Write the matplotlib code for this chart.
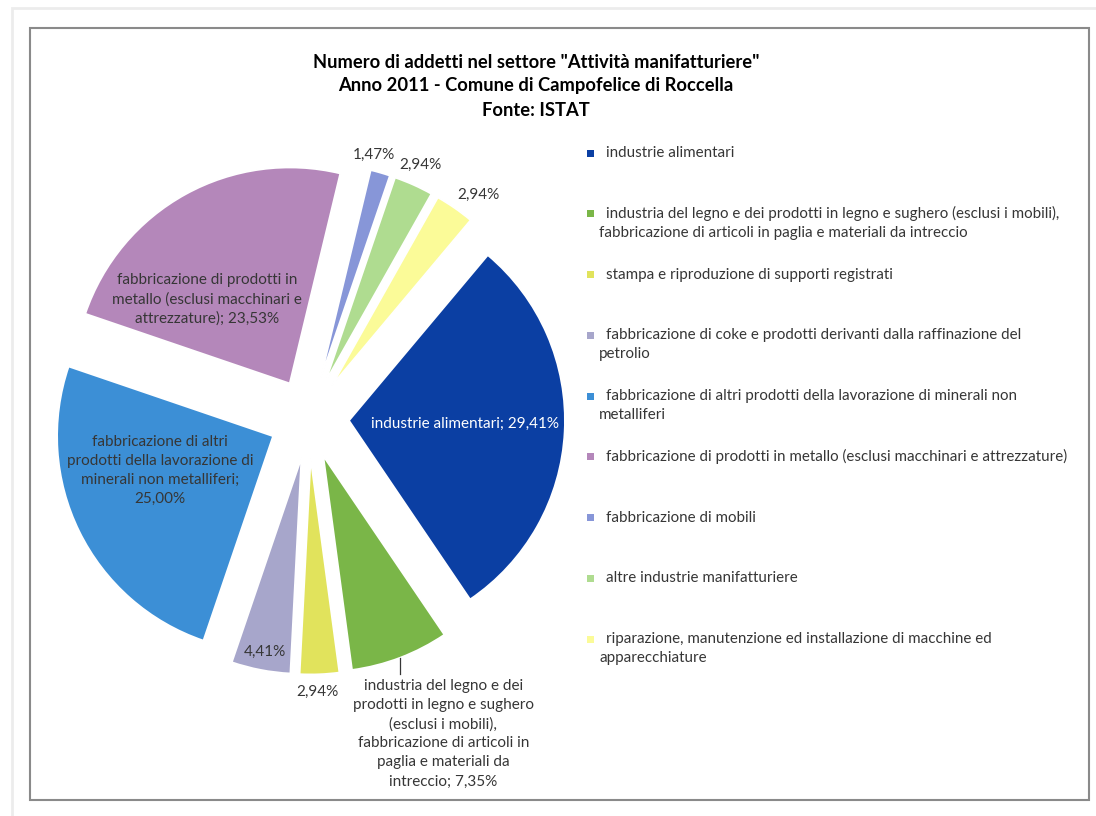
import matplotlib.pyplot as plt
from matplotlib.patches import Rectangle
import numpy as np

plt.rcParams['font.family'] = ['Lato', 'DejaVu Sans']

# Numero di addetti per divisione ATECO, quote percentuali
settori = [
    "industrie alimentari",
    "industria del legno e dei prodotti in legno e sughero (esclusi i mobili),",
    "stampa e riproduzione di supporti registrati",
    "fabbricazione di coke e prodotti derivanti dalla raffinazione del",
    "fabbricazione di altri prodotti della lavorazione di minerali non",
    "fabbricazione di prodotti in metallo (esclusi macchinari e attrezzature)",
    "fabbricazione di mobili",
    "altre industrie manifatturiere",
    "riparazione, manutenzione ed installazione di macchine ed",
]
# seconda riga delle voci di legenda troppo lunghe
settori_riga2 = [
    None,
    "fabbricazione di articoli in paglia e materiali da intreccio",
    None,
    "petrolio",
    "metalliferi",
    None,
    None,
    None,
    "apparecchiature",
]
quote = [29.41, 7.35, 2.94, 4.41, 25.00, 23.53, 1.47, 2.94, 2.94]
colori = ["#0b3fa3", "#7ab648", "#e1e35c", "#a7a6cb", "#3c8fd6",
          "#b487ba", "#8796d8", "#afdc90", "#fbfb98"]

# testo delle etichette dati (nome della categoria dove c'e' spazio)
nomi_etichetta = [
    "industrie alimentari; ",
    "industria del legno e dei\nprodotti in legno e sughero\n(esclusi i mobili),\n"
    "fabbricazione di articoli in\npaglia e materiali da\nintreccio; ",
    "",
    "",
    "fabbricazione di altri\nprodotti della lavorazione di\nminerali non metalliferi;\n",
    "fabbricazione di prodotti in\nmetallo (esclusi macchinari e\nattrezzature); ",
    "",
    "",
    "",
]
# posizione etichette: distanza dal vertice dello spicchio (px) e angolo
pos_etichetta = [(116, -1.5), None, (234, -88.4), (197, -100.6), (118, 197),
                 (118, 134.7), (231, 76.6), (237, 66.4), (241, 52.4)]

W, H = 1096, 816
fig = plt.figure(figsize=(W / 100, H / 100), dpi=100)
ax = fig.add_axes([0, 0, 1, 1])

grigio = "#363636"
fs_et = 11
R = 216
spicchi, _ = ax.pie(quote, colors=colori, startangle=50, counterclock=False,
                    radius=R, center=(309, H - 418.5), explode=[40] * len(quote),
                    wedgeprops=dict(edgecolor="white", linewidth=1.3))
ax.set_xlim(0, W)
ax.set_ylim(0, H)
ax.set_aspect("equal")
ax.axis("off")

for i, w in enumerate(spicchi):
    cx, cy = w.center
    mid = np.deg2rad((w.theta1 + w.theta2) / 2)
    testo = nomi_etichetta[i] + f"{quote[i]:.2f}%".replace(".", ",")
    if pos_etichetta[i] is None:
        # etichetta esterna con linea di richiamo
        x0 = cx + R * np.cos(mid)
        y0 = cy + R * np.sin(mid)
        ax.plot([x0, x0], [y0, y0 - 16], color=grigio, lw=0.9)
        ax.text(x0 + 43, y0 - 21, testo, ha="center", va="top", fontsize=fs_et,
                color=grigio, linespacing=1.46)
        continue
    d, ang = pos_etichetta[i]
    a = np.deg2rad(ang)
    ax.text(cx + d * np.cos(a), cy + d * np.sin(a), testo, ha="center", va="center",
            fontsize=fs_et, color="white" if i == 0 else grigio, linespacing=1.46)

# legenda
for i, nome in enumerate(settori):
    y = H - (153 + i * 60.75)
    ax.add_patch(Rectangle((587, y - 3.5), 7, 7, facecolor=colori[i], edgecolor="none"))
    ax.text(606, y, nome, ha="left", va="center", fontsize=10.9, color=grigio)
    if settori_riga2[i]:
        ax.text(599, y - 19, settori_riga2[i], ha="left", va="center",
                fontsize=10.9, color=grigio)

ax.text(536, H - 86,
        'Numero di addetti nel settore "Attività manifatturiere"\n'
        'Anno 2011 - Comune di Campofelice di Roccella\nFonte: ISTAT',
        ha="center", va="center", fontsize=13.2, fontweight="bold",
        color="black", linespacing=1.5)

# cornice del grafico
ax.add_patch(Rectangle((30, H - 800), 1059, 772, fill=False,
                       edgecolor="#8a8a8a", lw=1.5))
ax.add_patch(Rectangle((12, -5), 1100, H - 3, fill=False,
                       edgecolor="#ececec", lw=2))

fig.savefig("out.png", dpi=100, facecolor="white")
